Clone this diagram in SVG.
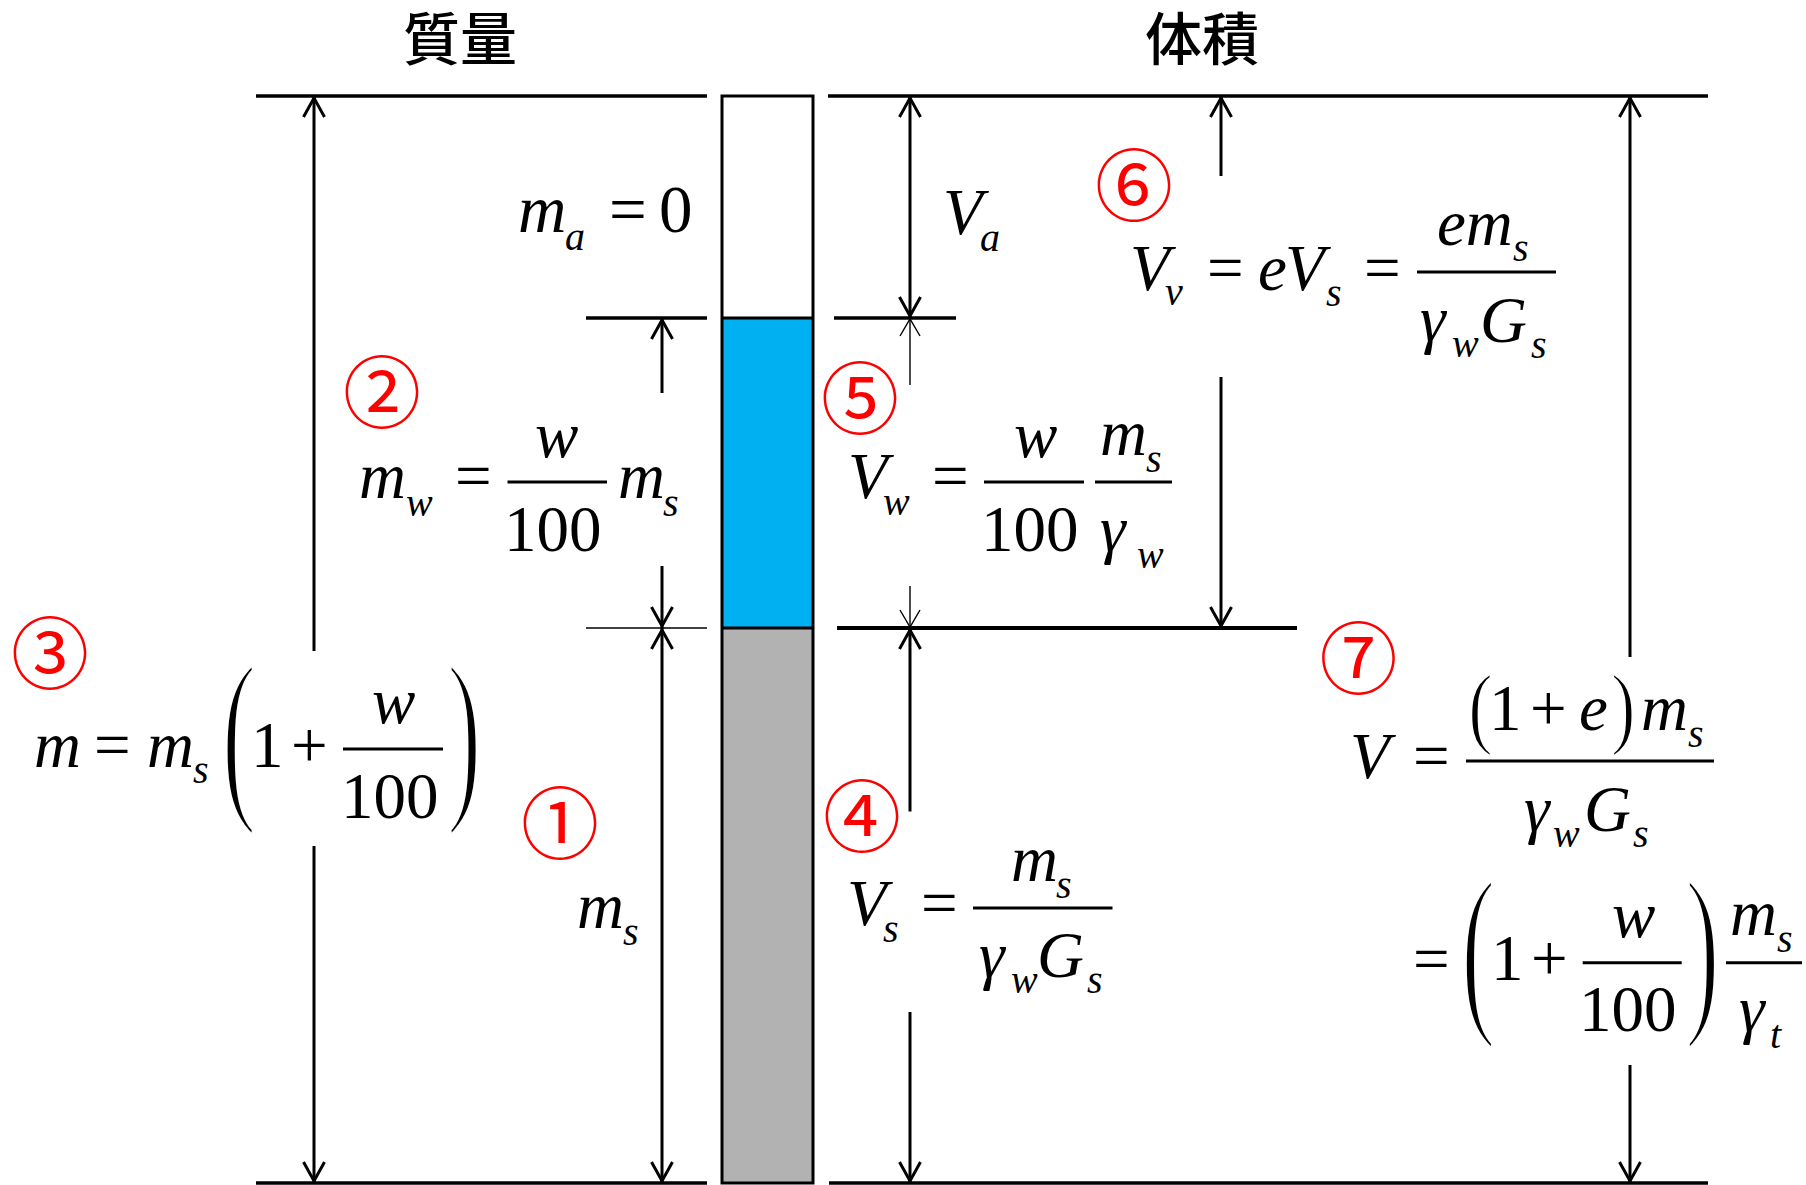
<svg xmlns="http://www.w3.org/2000/svg" width="1806" height="1185" viewBox="0 0 1806 1185">
<style>
.ln{stroke:#000;stroke-width:3.3;fill:none}
.ln-thin{stroke:#000;stroke-width:1.5;fill:none}
.ln-bold{stroke:#000;stroke-width:4;fill:none}
.bar{stroke:#000;stroke-width:3;fill:none}
.ar{stroke:#000;stroke-width:3;fill:none;marker-end:url(#ah)}
.ar2{stroke:#000;stroke-width:3;fill:none;marker-start:url(#ah);marker-end:url(#ah)}
.art{stroke:#000;stroke-width:1.4;fill:none;marker-end:url(#aht)}
.f{font-family:'Liberation Serif','Times New Roman',serif;font-size:65px;fill:#000}
.i{font-style:italic}
.s{font-size:40px;font-style:italic}
.pl{font-size:90px;stroke:#fff;stroke-width:2.2px}
.pm{font-size:70px;stroke:#fff;stroke-width:1.4px}
.cn{font-family:'Noto Sans CJK JP',sans-serif;font-size:78px;fill:#f00;text-anchor:middle}
.ttl{font-family:'Noto Sans CJK JP',sans-serif;font-size:57px;font-weight:500;fill:#000;text-anchor:middle}
</style>
<defs>
<marker id="ah" markerUnits="userSpaceOnUse" markerWidth="40" markerHeight="40" viewBox="-30 -20 40 40" refX="0" refY="0" orient="auto-start-reverse">
<path d="M-21,-10.5 L-2,0 L-21,10.5" fill="none" stroke="#000" stroke-width="3"/>
</marker>
<marker id="aht" markerUnits="userSpaceOnUse" markerWidth="40" markerHeight="40" viewBox="-30 -20 40 40" refX="0" refY="0" orient="auto-start-reverse">
<path d="M-18,-10 L-1,0 L-18,10" fill="none" stroke="#000" stroke-width="1.4"/>
</marker>
</defs>
<rect width="1806" height="1185" fill="#fff"/>

<g id="titles">
<text class="ttl" x="460" y="60">質量</text>
<text class="ttl" x="1202" y="60">体積</text>
</g>

<g id="column">
<rect x="722" y="318" width="91" height="310" fill="#00B0F0"/>
<rect x="722" y="628" width="91" height="555" fill="#B2B2B2"/>
<rect x="722" y="96" width="91" height="1087" fill="none" stroke="#000" stroke-width="3"/>
<line x1="722" y1="318" x2="813" y2="318" stroke="#000" stroke-width="3"/>
<line x1="722" y1="628" x2="813" y2="628" stroke="#000" stroke-width="3"/>
</g>

<g id="connectors">
<line class="ln" x1="256" y1="96" x2="707" y2="96"/>
<line class="ln" x1="828" y1="96" x2="1708" y2="96"/>
<line class="ln" x1="256" y1="1183" x2="707" y2="1183"/>
<line class="ln" x1="829" y1="1183" x2="1708" y2="1183"/>
<line class="ln" x1="586" y1="318" x2="707" y2="318"/>
<line class="ln" x1="834" y1="318" x2="956" y2="318"/>
<line class="ln-thin" x1="586" y1="628" x2="707" y2="628"/>
<line class="ln-bold" x1="837" y1="628" x2="1297" y2="628"/>
<line class="ar" x1="314" y1="651" x2="314" y2="96"/>
<line class="ar" x1="314" y1="846" x2="314" y2="1183"/>
<line class="ar" x1="662" y1="393" x2="662" y2="318"/>
<line class="ar" x1="662" y1="566" x2="662" y2="628"/>
<line class="ar2" x1="662" y1="628" x2="662" y2="1183"/>
<line class="ar2" x1="910" y1="96" x2="910" y2="318"/>
<line class="art" x1="910" y1="385" x2="910" y2="318"/>
<line class="art" x1="910" y1="586" x2="910" y2="628"/>
<line class="ar" x1="910" y1="811.5" x2="910" y2="628"/>
<line class="ar" x1="910" y1="1012" x2="910" y2="1183"/>
<line class="ar" x1="1221" y1="176" x2="1221" y2="96"/>
<line class="ar" x1="1221" y1="377" x2="1221" y2="628"/>
<line class="ar" x1="1630" y1="657" x2="1630" y2="96"/>
<line class="ar" x1="1630" y1="1065" x2="1630" y2="1183"/>
</g>

<g id="num1"><text class="cn" x="560" y="853">①</text></g>
<g id="num2"><text class="cn" x="382" y="422">②</text></g>
<g id="num3"><text class="cn" x="50" y="683">③</text></g>
<g id="num4"><text class="cn" x="862" y="846">④</text></g>
<g id="num5"><text class="cn" x="860" y="428">⑤</text></g>
<g id="num6"><text class="cn" x="1134" y="215">⑥</text></g>
<g id="num7"><text class="cn" x="1358.5" y="688">⑦</text></g>

<g id="eq-ma">
<text class="f i" x="518" y="232" style="font-size:67px">m</text>
<text class="f s" x="565" y="250">a</text>
<text class="f" x="609" y="232" style="font-size:67px">=</text>
<text class="f" x="659" y="232" style="font-size:67px">0</text>
</g>

<g id="eq-mw">
<text class="f i" x="359" y="498">m</text>
<text class="f s" x="406" y="516">w</text>
<text class="f" x="455" y="498">=</text>
<text class="f i" x="535" y="457">w</text>
<line class="bar" x1="507.5" y1="482" x2="607" y2="482"/>
<text class="f" x="504" y="551">100</text>
<text class="f i" x="618" y="498">m</text>
<text class="f s" x="663" y="516">s</text>
</g>

<g id="eq-m">
<text class="f i" x="34" y="767">m</text>
<text class="f" x="94" y="767">=</text>
<text class="f i" x="147" y="767">m</text>
<text class="f s" x="193" y="783">s</text>
<g transform="translate(226.7,749) scale(1.15,2.11)"><text class="f pl" x="-4.3" y="22.5">(</text></g>
<text class="f" x="251" y="767">1</text>
<text class="f" x="291" y="767">+</text>
<line class="bar" x1="343" y1="749" x2="443" y2="749"/>
<text class="f i" x="372" y="723">w</text>
<text class="f" x="341" y="818">100</text>
<g transform="translate(450,749) scale(1.15,2.11)"><text class="f pl" x="-2.6" y="22.5">)</text></g>
</g>

<g id="eq-ms">
<text class="f i" x="577" y="928">m</text>
<text class="f s" x="623" y="945">s</text>
</g>

<g id="eq-Va">
<text class="f i" x="943" y="234">V</text>
<text class="f s" x="980" y="251">a</text>
</g>

<g id="eq-Vv">
<text class="f i" x="1130" y="290">V</text>
<text class="f s" x="1165" y="305">v</text>
<text class="f" x="1207" y="290">=</text>
<text class="f i" x="1258" y="290">e</text>
<text class="f i" x="1285" y="290">V</text>
<text class="f s" x="1326" y="306">s</text>
<text class="f" x="1364" y="290">=</text>
<line class="bar" x1="1417" y1="272" x2="1556" y2="272"/>
<text class="f i" x="1437" y="245">em</text>
<text class="f s" x="1513" y="261">s</text>
<text class="f i" x="1420" y="341">γ</text>
<text class="f s" x="1452" y="357">w</text>
<text class="f i" x="1480" y="342">G</text>
<text class="f s" x="1531" y="358">s</text>
</g>

<g id="eq-Vw">
<text class="f i" x="848" y="497.5">V</text>
<text class="f s" x="883" y="515">w</text>
<text class="f" x="932" y="497.5">=</text>
<line class="bar" x1="984" y1="482" x2="1084" y2="482"/>
<text class="f i" x="1014" y="457">w</text>
<text class="f" x="981" y="551">100</text>
<line class="bar" x1="1095" y1="482" x2="1172" y2="482"/>
<text class="f i" x="1100" y="455">m</text>
<text class="f s" x="1146" y="472">s</text>
<text class="f i" x="1100" y="551">γ</text>
<text class="f s" x="1137" y="568">w</text>
</g>

<g id="eq-Vs">
<text class="f i" x="847" y="925">V</text>
<text class="f s" x="883" y="942">s</text>
<text class="f" x="921" y="925">=</text>
<line class="bar" x1="973" y1="908" x2="1112.5" y2="908"/>
<text class="f i" x="1011" y="881">m</text>
<text class="f s" x="1056" y="898">s</text>
<text class="f i" x="979" y="977">γ</text>
<text class="f s" x="1011" y="993">w</text>
<text class="f i" x="1037" y="977">G</text>
<text class="f s" x="1087" y="993">s</text>
</g>

<g id="eq-V">
<text class="f i" x="1350" y="778">V</text>
<text class="f" x="1413" y="778">=</text>
<line class="bar" x1="1466" y1="761" x2="1714" y2="761"/>
<g transform="translate(1471.7,713.8) scale(1.05,1.3)"><text class="f pm" x="-3.4" y="17.5">(</text></g>
<text class="f" x="1489" y="730">1</text>
<text class="f" x="1530" y="730">+</text>
<text class="f i" x="1579" y="730">e</text>
<g transform="translate(1613,713.8) scale(1.05,1.3)"><text class="f pm" x="-2" y="17.5">)</text></g>
<text class="f i" x="1641" y="730">m</text>
<text class="f s" x="1688" y="746.5">s</text>
<text class="f i" x="1524" y="831">γ</text>
<text class="f s" x="1553" y="846.5">w</text>
<text class="f i" x="1584" y="831">G</text>
<text class="f s" x="1633" y="846.5">s</text>
<text class="f" x="1413" y="981">=</text>
<g transform="translate(1466,962.5) scale(1.15,2.1)"><text class="f pl" x="-4.3" y="22.5">(</text></g>
<text class="f" x="1491" y="980">1</text>
<text class="f" x="1531" y="980">+</text>
<line class="bar" x1="1582.7" y1="962.7" x2="1681.7" y2="962.7"/>
<text class="f i" x="1612" y="936.5">w</text>
<text class="f" x="1579" y="1031">100</text>
<g transform="translate(1688.3,962.5) scale(1.15,2.1)"><text class="f pl" x="-2.6" y="22.5">)</text></g>
<line class="bar" x1="1726" y1="962.7" x2="1802" y2="962.7"/>
<text class="f i" x="1730" y="935">m</text>
<text class="f s" x="1777" y="952">s</text>
<text class="f i" x="1739" y="1031">γ</text>
<text class="f s" x="1770" y="1048">t</text>
</g>
</svg>
